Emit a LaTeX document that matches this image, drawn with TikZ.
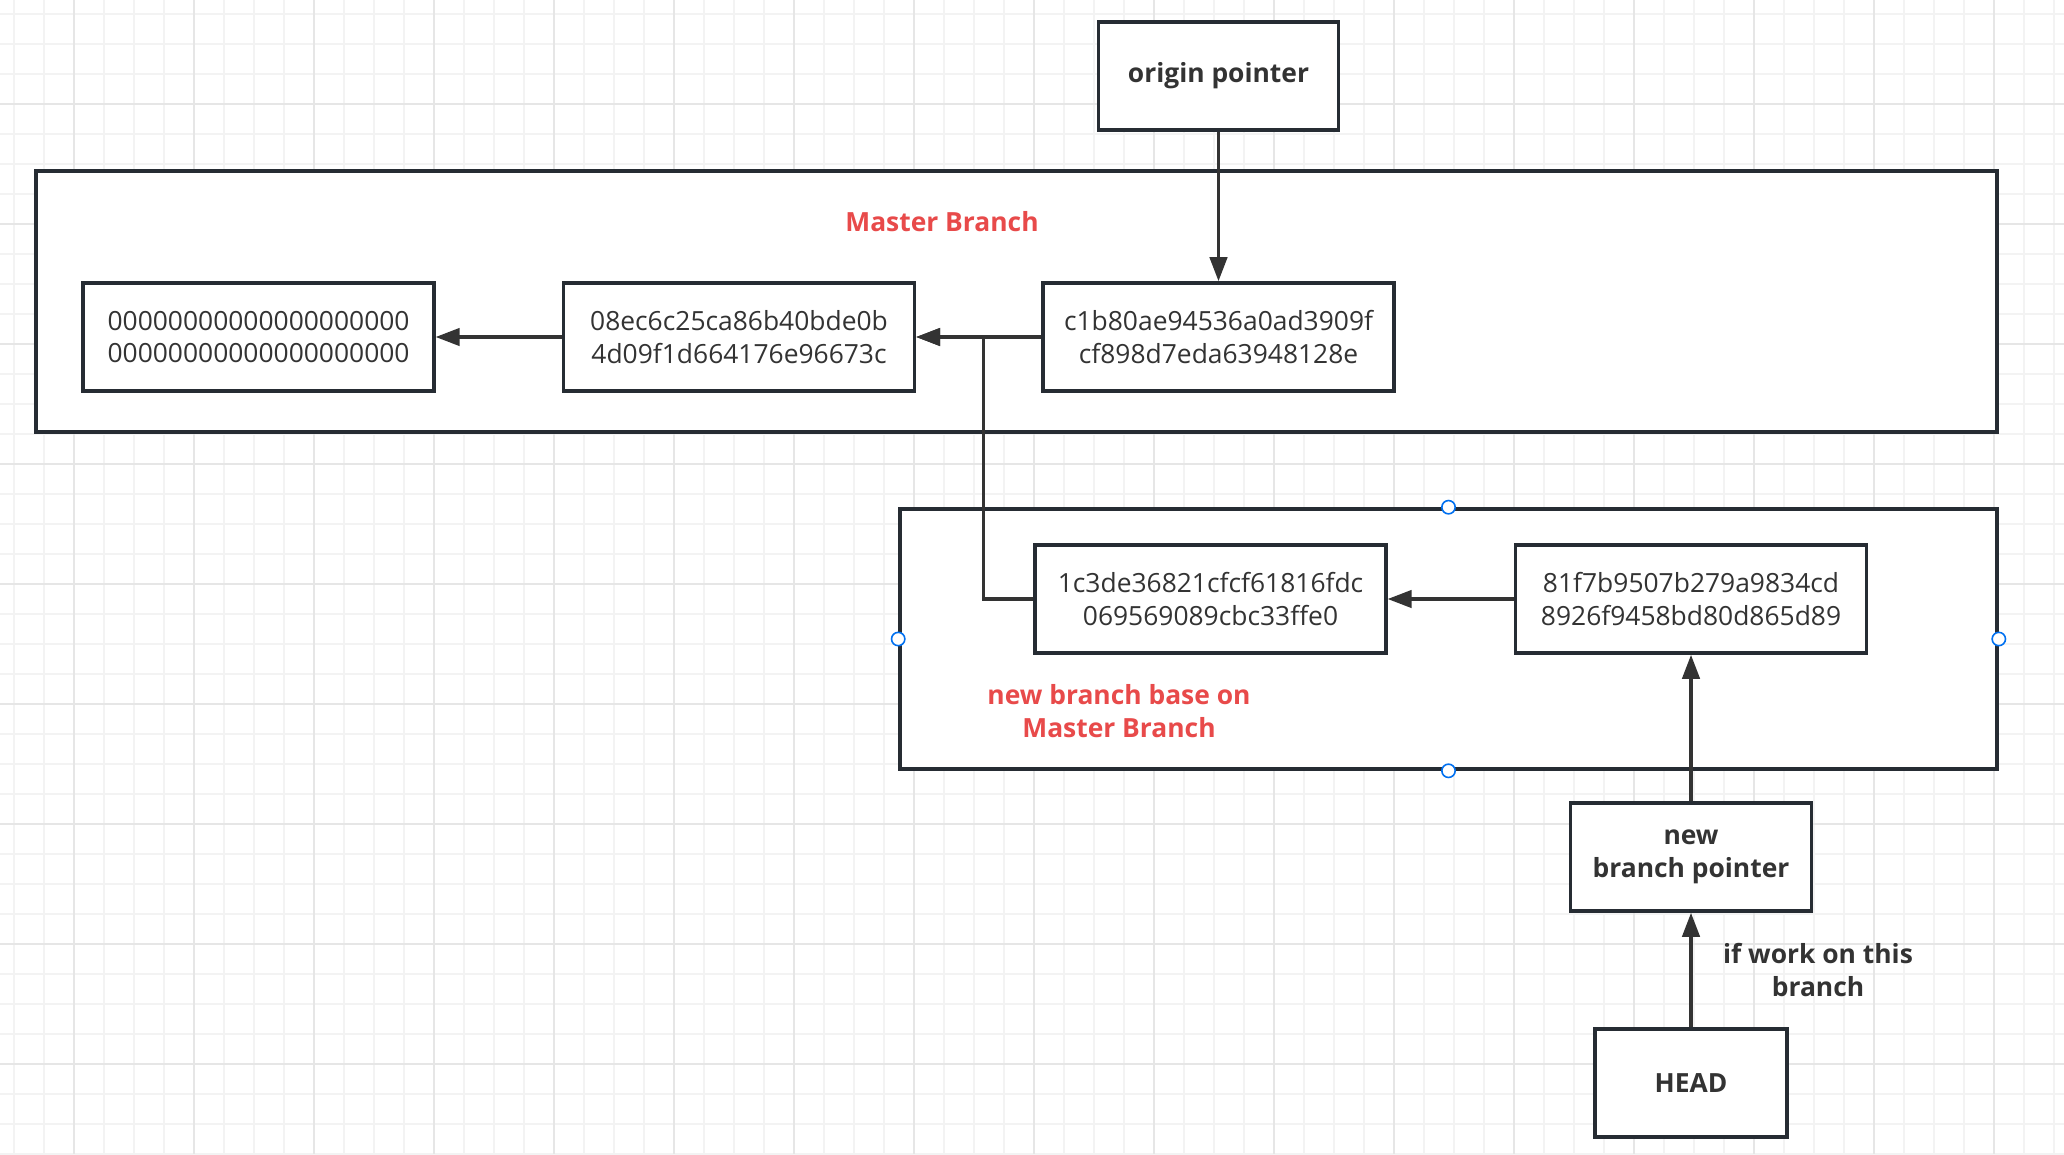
\documentclass[tikz,border=0pt]{standalone}
\usepackage{fontspec}
\setmainfont{Open Sans}
\usetikzlibrary{arrows.meta,positioning}
\definecolor{gitline}{RGB}{38,44,51}
\definecolor{gittext}{RGB}{51,51,51}
\definecolor{gitred}{RGB}{232,74,74}
\definecolor{gridminor}{RGB}{243,243,243}
\definecolor{gridmajor}{RGB}{230,230,230}
\definecolor{handleblue}{RGB}{0,112,240}
\newcommand{\gitfont}{\fontsize{19.8}{24.5}\selectfont}
\tikzset{
  commit/.style={draw=gitline, line width=2.7pt, fill=white, inner sep=0pt,
    minimum width=263pt, minimum height=81pt, align=center, text=gittext, font=\gitfont},
  pointer/.style={commit, font=\gitfont\bfseries},
  frame/.style={draw=gitline, line width=2.7pt, fill=white, inner sep=0pt},
  note/.style={align=center, font=\gitfont\bfseries, inner sep=0pt},
  ptr/.style={draw=gittext, line width=2.5pt, -{Triangle[length=18pt,width=13pt]}},
  handle/.style={circle, draw=handleblue, line width=1.2pt, fill=white, inner sep=0pt, minimum size=10pt}
}
\begin{document}
\begin{tikzpicture}[x=0.75pt,y=-0.75pt]
\useasboundingbox (0,0) rectangle (2064,1154);
\fill[white] (0,0) rectangle (2064,1154);
% Grid
\foreach \gx in {14,44,...,2064} \draw[gridminor, line width=1.4pt] (\gx,0) -- (\gx,1154);
\foreach \gy in {14,44,...,1154} \draw[gridminor, line width=1.4pt] (0,\gy) -- (2064,\gy);
\foreach \gx in {74,194,...,2064} \draw[gridmajor, line width=1.6pt] (\gx,0) -- (\gx,1154);
\foreach \gy in {104,224,...,1154} \draw[gridmajor, line width=1.6pt] (0,\gy) -- (2064,\gy);
% Branch frames
\node[frame, minimum width=1470.75pt, minimum height=195.75pt] (master) at (1016.5,301.5) {};
\node[frame, minimum width=822.75pt, minimum height=195pt] (branch) at (1448.5,639) {};
\node[note, text=gitred] (masterlabel) at (942,222) {Master Branch};
\node[note, text=gitred] (branchlabel) at (1119,711) {new branch base on\\Master Branch};
% Commits
\node[commit] (z0) at (258.5,337) {00000000000000000000\\00000000000000000000};
\node[commit] (c1) at (739,337) {08ec6c25ca86b40bde0b\\4d09f1d664176e96673c};
\node[commit] (c2) at (1218.5,337) {c1b80ae94536a0ad3909f\\cf898d7eda63948128e};
\node[commit] (c3) at (1210.5,599) {1c3de36821cfcf61816fdc\\069569089cbc33ffe0};
\node[commit] (c4) at (1691,599) {81f7b9507b279a9834cd\\8926f9458bd80d865d89};
% Pointers
\node[pointer, minimum width=180pt] (origin) at (1218.5,76) {origin pointer};
\node[pointer, minimum width=181pt] (newptr) at (1691,857) {new\\branch pointer};
\node[pointer, minimum width=144pt] (head) at (1691,1083) {HEAD};
\node[note, text=gittext] (worklabel) at (1818,970) {if work on this\\branch};
% Connectors
\draw[ptr] (origin) -- (c2);
\draw[ptr] (c2) -- (c1);
\draw[ptr] (c1) -- (z0);
\draw[ptr] (c4) -- (c3);
\draw[ptr] (c3.west) -- ++(-50,0) |- (c1.east);
\draw[ptr] (newptr) -- (c4);
\draw[ptr] (head) -- (newptr);
% Selection handles
\foreach \side in {north,south,east,west} \node[handle] at (branch.\side) {};
\end{tikzpicture}
\end{document}
